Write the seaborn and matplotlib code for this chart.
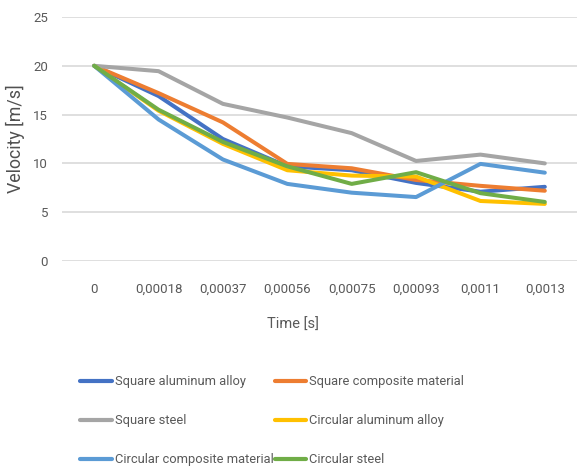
import matplotlib
matplotlib.use("Agg")
import matplotlib.pyplot as plt
import seaborn as sns
import pandas as pd

# Time samples (category labels on the x axis)
times = ["0", "0,00018", "0,00037", "0,00056", "0,00075", "0,00093", "0,0011", "0,0013"]

# Velocity [m/s] of each specimen
square_aluminum = [20.0, 16.9, 12.5, 9.7, 9.3, 8.0, 7.1, 7.6]
square_composite = [20.0, 17.2, 14.2, 9.95, 9.5, 8.3, 7.7, 7.2]
square_steel = [20.0, 19.45, 16.1, 14.7, 13.1, 10.25, 10.9, 10.0]
circular_aluminum = [20.0, 15.4, 12.0, 9.3, 8.75, 8.65, 6.15, 5.85]
circular_composite = [20.0, 14.5, 10.4, 7.9, 7.0, 6.55, 9.95, 9.05]
circular_steel = [20.0, 15.5, 12.2, 9.7, 7.9, 9.1, 6.95, 6.05]

series_names = [
    "Square aluminum alloy",
    "Square composite material",
    "Square steel",
    "Circular aluminum alloy",
    "Circular composite material",
    "Circular steel",
]
series_values = [
    square_aluminum,
    square_composite,
    square_steel,
    circular_aluminum,
    circular_composite,
    circular_steel,
]
colors = ["#4472C4", "#ED7D31", "#A5A5A5", "#FFC000", "#5B9BD5", "#70AD47"]

rows = []
for name, vals in zip(series_names, series_values):
    for t, v in zip(times, vals):
        rows.append({"Time": t, "Velocity": v, "Series": name})
df = pd.DataFrame(rows)

sns.set_theme(style="white")
plt.rcParams["font.family"] = ["Roboto", "DejaVu Sans"]
text_color = "#595959"

fig = plt.figure(figsize=(5.77, 4.68), dpi=100)
ax = fig.add_axes([62 / 577, 1 - 261 / 468, 515 / 577, 244 / 468])

sns.lineplot(
    data=df, x="Time", y="Velocity", hue="Series",
    hue_order=series_names, palette=colors,
    linewidth=2.9, sort=False, legend=True, ax=ax,
)

ax.set_xlim(-0.5, len(times) - 0.5)
ax.set_ylim(0, 25)
ax.set_yticks([0, 5, 10, 15, 20, 25])
ax.grid(axis="y", color="#D9D9D9", linewidth=1.2)
ax.grid(axis="x", visible=False)
for s in ax.spines.values():
    s.set_visible(False)
ax.tick_params(axis="both", length=0, labelsize=9.5, labelcolor=text_color)
ax.tick_params(axis="y", pad=10)
ax.tick_params(axis="x", pad=16)

ax.set_xlabel("Time [s]", fontsize=10.5, color=text_color)
ax.xaxis.set_label_coords((293 - 62) / 515, -(318 - 261) / 244)
ax.set_ylabel("Velocity [m/s]", fontsize=12.8, color="#505050")
ax.yaxis.set_label_coords(-(62 - 25) / 515, 0.5)

# Legend entries laid out row by row, two per row
handles, labels = ax.get_legend_handles_labels()
ax.get_legend().remove()
for h in handles:
    h.set_linewidth(3)
order = [0, 2, 4, 1, 3, 5]
fig.legend(
    [handles[i] for i in order], [labels[i] for i in order],
    ncol=2, loc="upper left",
    bbox_to_anchor=(74 / 577, 1 - 369 / 468),
    frameon=False, fontsize=9.3, labelcolor=text_color,
    handlelength=2.45, handletextpad=0.2, columnspacing=0.1,
    labelspacing=2.0, borderpad=0,
)

fig.savefig("out.png", dpi=100)
